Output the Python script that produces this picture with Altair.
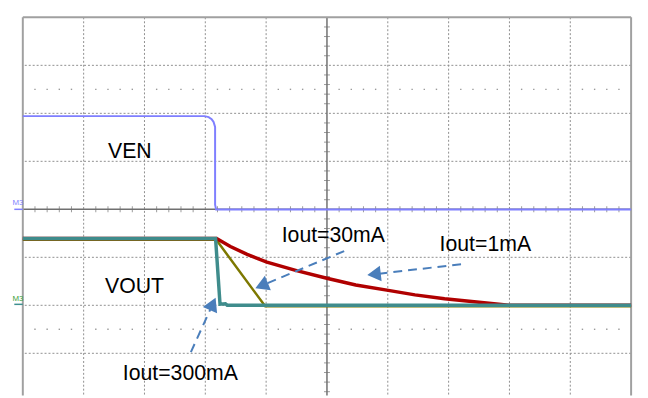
import math
import altair as alt
import pandas as pd

# ---------------- data (oscilloscope screen in divisions: x 0..10, y 0..8) ----------------
ven_x = [0.0, 2.99, 3.055, 3.104, 3.136, 3.161, 3.161, 3.177, 10.0]
ven_y = [5.942, 5.942, 5.922, 5.88, 5.819, 5.716, 4.095, 3.998, 3.998]

i300_x = [0.0, 3.169, 3.242, 3.33, 3.36, 10.0]
i300_y = [3.391, 3.391, 2.023, 2.033, 2.002, 2.002]

i30_x = [0.0, 3.18, 3.985, 10.0]
i30_y = [3.365, 3.365, 1.981, 1.981]

i1_x = [0.0, 3.185, 3.412, 3.688, 4.012, 4.5, 5.014, 5.473, 6.008, 6.447, 6.933, 7.42, 7.745, 7.988, 10.0]
i1_y = [3.391, 3.391, 3.226, 3.062, 2.898, 2.722, 2.558, 2.424, 2.311, 2.218, 2.136, 2.074, 2.033, 2.002, 2.0]

label_text = ["VEN", "VOUT", "Iout=30mA", "Iout=1mA", "Iout=300mA"]
label_x = [1.40, 1.351, 4.256, 6.852, 1.644]
label_y = [5.078, 2.253, 3.315, 3.13, 0.434]

arrow_name = ["1mA", "30mA", "300mA"]
arrow_tail_x = [7.204, 5.283, 2.763]
arrow_tail_y = [2.856, 3.130, 1.025]
arrow_tip_x = [5.663, 3.823, 3.169]
arrow_tip_y = [2.630, 2.356, 2.156]

major_x = [1, 2, 3, 4, 6, 7, 8, 9]
major_y = [1, 2, 3, 5, 6, 7]
marker_y = [1.5, 6.5]

# ---------------- layout ----------------
W, H = 616, 383
PXX = W / 10.0
PXY = 48.6
Y_TOP = 8.0
Y_BOT = Y_TOP - H / PXY

xs = alt.Scale(domain=[0, 10], nice=False, zero=False)
ys = alt.Scale(domain=[Y_BOT, Y_TOP], nice=False, zero=False)
X = lambda f: alt.X(f, type="quantitative", scale=xs, axis=None)
Y = lambda f: alt.Y(f, type="quantitative", scale=ys, axis=None)

GRID = "#8e8e8e"
layers = []

# dotted graticule
layers.append(alt.Chart(pd.DataFrame({"x": major_x})).mark_rule(
    color=GRID, strokeWidth=1, strokeDash=[2, 2]).encode(x=X("x")))
layers.append(alt.Chart(pd.DataFrame({"y": major_y})).mark_rule(
    color=GRID, strokeWidth=1, strokeDash=[2, 2]).encode(y=Y("y")))

# marker dotted lines (minor positions)
minor = [i * 0.2 for i in range(1, 50) if i % 5 != 0]
mk = pd.DataFrame([(x, y) for y in marker_y for x in minor], columns=["x", "y"])
layers.append(alt.Chart(mk).mark_square(size=2, color="#9a9a9a", opacity=1).encode(x=X("x"), y=Y("y")))

# centre cross + ticks
layers.append(alt.Chart(pd.DataFrame({"x": [5]})).mark_rule(color="#707070", strokeWidth=1.5).encode(x=X("x")))
layers.append(alt.Chart(pd.DataFrame({"y": [4]})).mark_rule(color="#707070", strokeWidth=1.5).encode(y=Y("y")))
tx = pd.DataFrame({"x": minor, "y": 4.0})
layers.append(alt.Chart(tx).mark_tick(orient="vertical", size=6, thickness=1, color="#707070").encode(x=X("x"), y=Y("y")))
minor_y = [i * 0.2 for i in range(1, 40) if i % 5 != 0]
ty = pd.DataFrame({"y": minor_y, "x": 5.0})
layers.append(alt.Chart(ty).mark_tick(orient="horizontal", size=6, thickness=1, color="#707070").encode(x=X("x"), y=Y("y")))

# frame
layers.append(alt.Chart(pd.DataFrame({"x": [0, 10]})).mark_rule(color="#a0a0a0", strokeWidth=2).encode(x=X("x")))
layers.append(alt.Chart(pd.DataFrame({"y": [8]})).mark_rule(color="#a0a0a0", strokeWidth=2).encode(y=Y("y")))

# channel level markers on the left
lm = pd.DataFrame({"x": [-0.14, 0, -0.14, 0], "y": [4.0, 4.0, 2.02, 2.02], "c": ["a", "a", "b", "b"]})
layers.append(alt.Chart(lm[lm.c == "a"]).mark_line(color="#7f7fff", strokeWidth=1.5, clip=False).encode(x=X("x"), y=Y("y")))
layers.append(alt.Chart(lm[lm.c == "b"]).mark_line(color="#3f8f8f", strokeWidth=1.5, clip=False).encode(x=X("x"), y=Y("y")))
ml = pd.DataFrame({"x": [-0.17, -0.17], "y": [4.08, 2.1], "t": ["M3", "M3"], "c": ["#7f7fff", "#3aa03a"]})
layers.append(alt.Chart(ml).mark_text(align="left", baseline="alphabetic", fontSize=8, clip=False,
                                      font="Liberation Sans").encode(
    x=X("x"), y=Y("y"), text="t:N", color=alt.Color("c:N", scale=None)))

# traces
def trace(xv, yv, color, width):
    d = pd.DataFrame({"x": xv, "y": yv, "k": range(len(xv))})
    return alt.Chart(d).mark_line(color=color, strokeWidth=width, interpolate="linear").encode(
        x=X("x"), y=Y("y"), order="k:Q")

layers.append(trace(ven_x, ven_y, "#7f7fff", 2))
layers.append(trace(i30_x, i30_y, "#7d7800", 2.5))
layers.append(trace(i1_x, i1_y, "#b00000", 3.5))
layers.append(trace(i300_x, i300_y, "#3f8c8c", 3.5))

# labels
lab = pd.DataFrame({"x": label_x, "y": label_y, "t": label_text})
layers.append(alt.Chart(lab).mark_text(align="left", baseline="alphabetic", fontSize=21.5,
                                       font="Liberation Sans", color="black").encode(
    x=X("x"), y=Y("y"), text="t:N"))

# arrows
HEAD_SIZE = 250
head_len = math.sqrt(3) / 2 * math.sqrt(HEAD_SIZE)
lines, heads = [], []
for n, x0, y0, x1, y1 in zip(arrow_name, arrow_tail_x, arrow_tail_y, arrow_tip_x, arrow_tip_y):
    dx = (x1 - x0) * PXX
    dy = (y1 - y0) * PXY  # upward positive
    L = math.hypot(dx, dy)
    ux, uy = dx / L, dy / L
    ex = x1 - ux * head_len * 0.9 / PXX
    ey = y1 - uy * head_len * 0.9 / PXY
    lines += [(n, 0, x0, y0), (n, 1, ex, ey)]
    cx = x1 - ux * head_len / 2 / PXX
    cy = y1 - uy * head_len / 2 / PXY
    ang = math.degrees(math.atan2(dx, dy)) % 360
    heads.append((n, cx, cy, ang))
ldf = pd.DataFrame(lines, columns=["a", "k", "x", "y"])
hdf = pd.DataFrame(heads, columns=["a", "x", "y", "ang"])
ARROW = "#4a7ebb"
layers.append(alt.Chart(ldf).mark_line(color=ARROW, strokeWidth=2, strokeDash=[9, 6]).encode(
    x=X("x"), y=Y("y"), detail="a:N", order="k:Q"))
layers.append(alt.Chart(hdf).mark_point(shape="triangle-up", filled=True, size=HEAD_SIZE,
                                        color=ARROW, opacity=1).encode(
    x=X("x"), y=Y("y"), angle=alt.Angle("ang:Q", scale=None)))

chart = alt.layer(*layers).properties(
    width=W, height=H,
    autosize=alt.AutoSizeParams(type="none"),
    padding={"left": 15, "top": 7, "right": 9, "bottom": 0},
    background="white",
).configure_view(stroke=None)

chart.save("out.html", embed_options={"renderer": "svg", "actions": False})
